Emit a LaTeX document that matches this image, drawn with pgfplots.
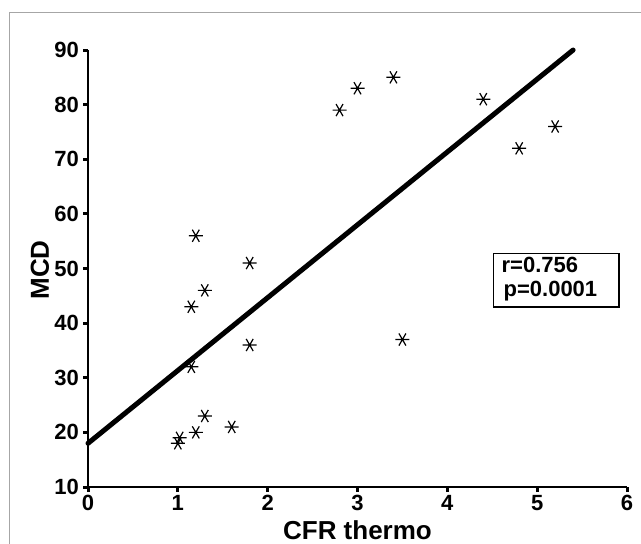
\documentclass[border=0pt]{standalone}
\usepackage{fontspec}
\setmainfont{Liberation Sans}
\usepackage{pgfplots}
\pgfplotsset{compat=1.18}

\pgfplotstableread{
x    y
1.0  18
1.02 19
1.2  20
1.3  23
1.6  21
1.15 32
1.15 43
1.3  46
1.2  56
1.8  51
1.8  36
2.8  79
3.0  83
3.4  85
3.5  37
4.4  81
4.8  72
5.2  76
}\points

\begin{document}
\begin{tikzpicture}
\useasboundingbox (0,0) rectangle (320.5pt,271.5pt);
% thin frame round the figure
\draw[gray!70, line width=0.5pt] (4.5pt,-2pt) -- (4.5pt,265.5pt) -- (323pt,265.5pt);
\begin{axis}[
  at={(44pt,28pt)}, anchor=south west,
  scale only axis, width=269.5pt, height=218.5pt,
  xmin=0, xmax=6, ymin=10, ymax=90,
  xtick={0,...,6}, ytick={10,20,...,90},
  axis lines*=left, axis line style={line width=1pt},
  tick align=outside, major tick length=2.5pt,
  tick style={line width=1.5pt, black},
  clip=false,
  ticklabel style={font=\bfseries\fontsize{11}{13}\selectfont},
  /pgf/number format/assume math mode=true,
  xticklabel style={yshift=-0.5pt, inner ysep=1pt},
  yticklabel style={xshift=1.5pt},
  xlabel={CFR thermo}, ylabel={MCD},
  label style={font=\bfseries\fontsize{13}{15}\selectfont},
  xlabel style={at={(axis description cs:0.5,-0.099)}, anchor=center, inner sep=0pt},
  ylabel style={at={(axis description cs:-0.089,0.497)}, anchor=center, rotate=0},
]
  \addplot[only marks, mark=asterisk, mark size=3.5pt,
    mark options={rotate=90, line width=0.6pt}] table[x=x, y=y] {\points};
  \addplot[line width=2.5pt, line cap=round] coordinates {(0,18) (5.4,90)};
  \draw[line width=0.6pt] (axis cs:4.51,52.8) rectangle (axis cs:5.91,42.95);
  \node[align=left, anchor=west, font=\bfseries\fontsize{11}{12}\selectfont, inner sep=0pt]
    at (axis cs:4.60,48.0) {r=0.756\\\hspace{1pt}p=0.0001};
\end{axis}
\end{tikzpicture}
\end{document}
